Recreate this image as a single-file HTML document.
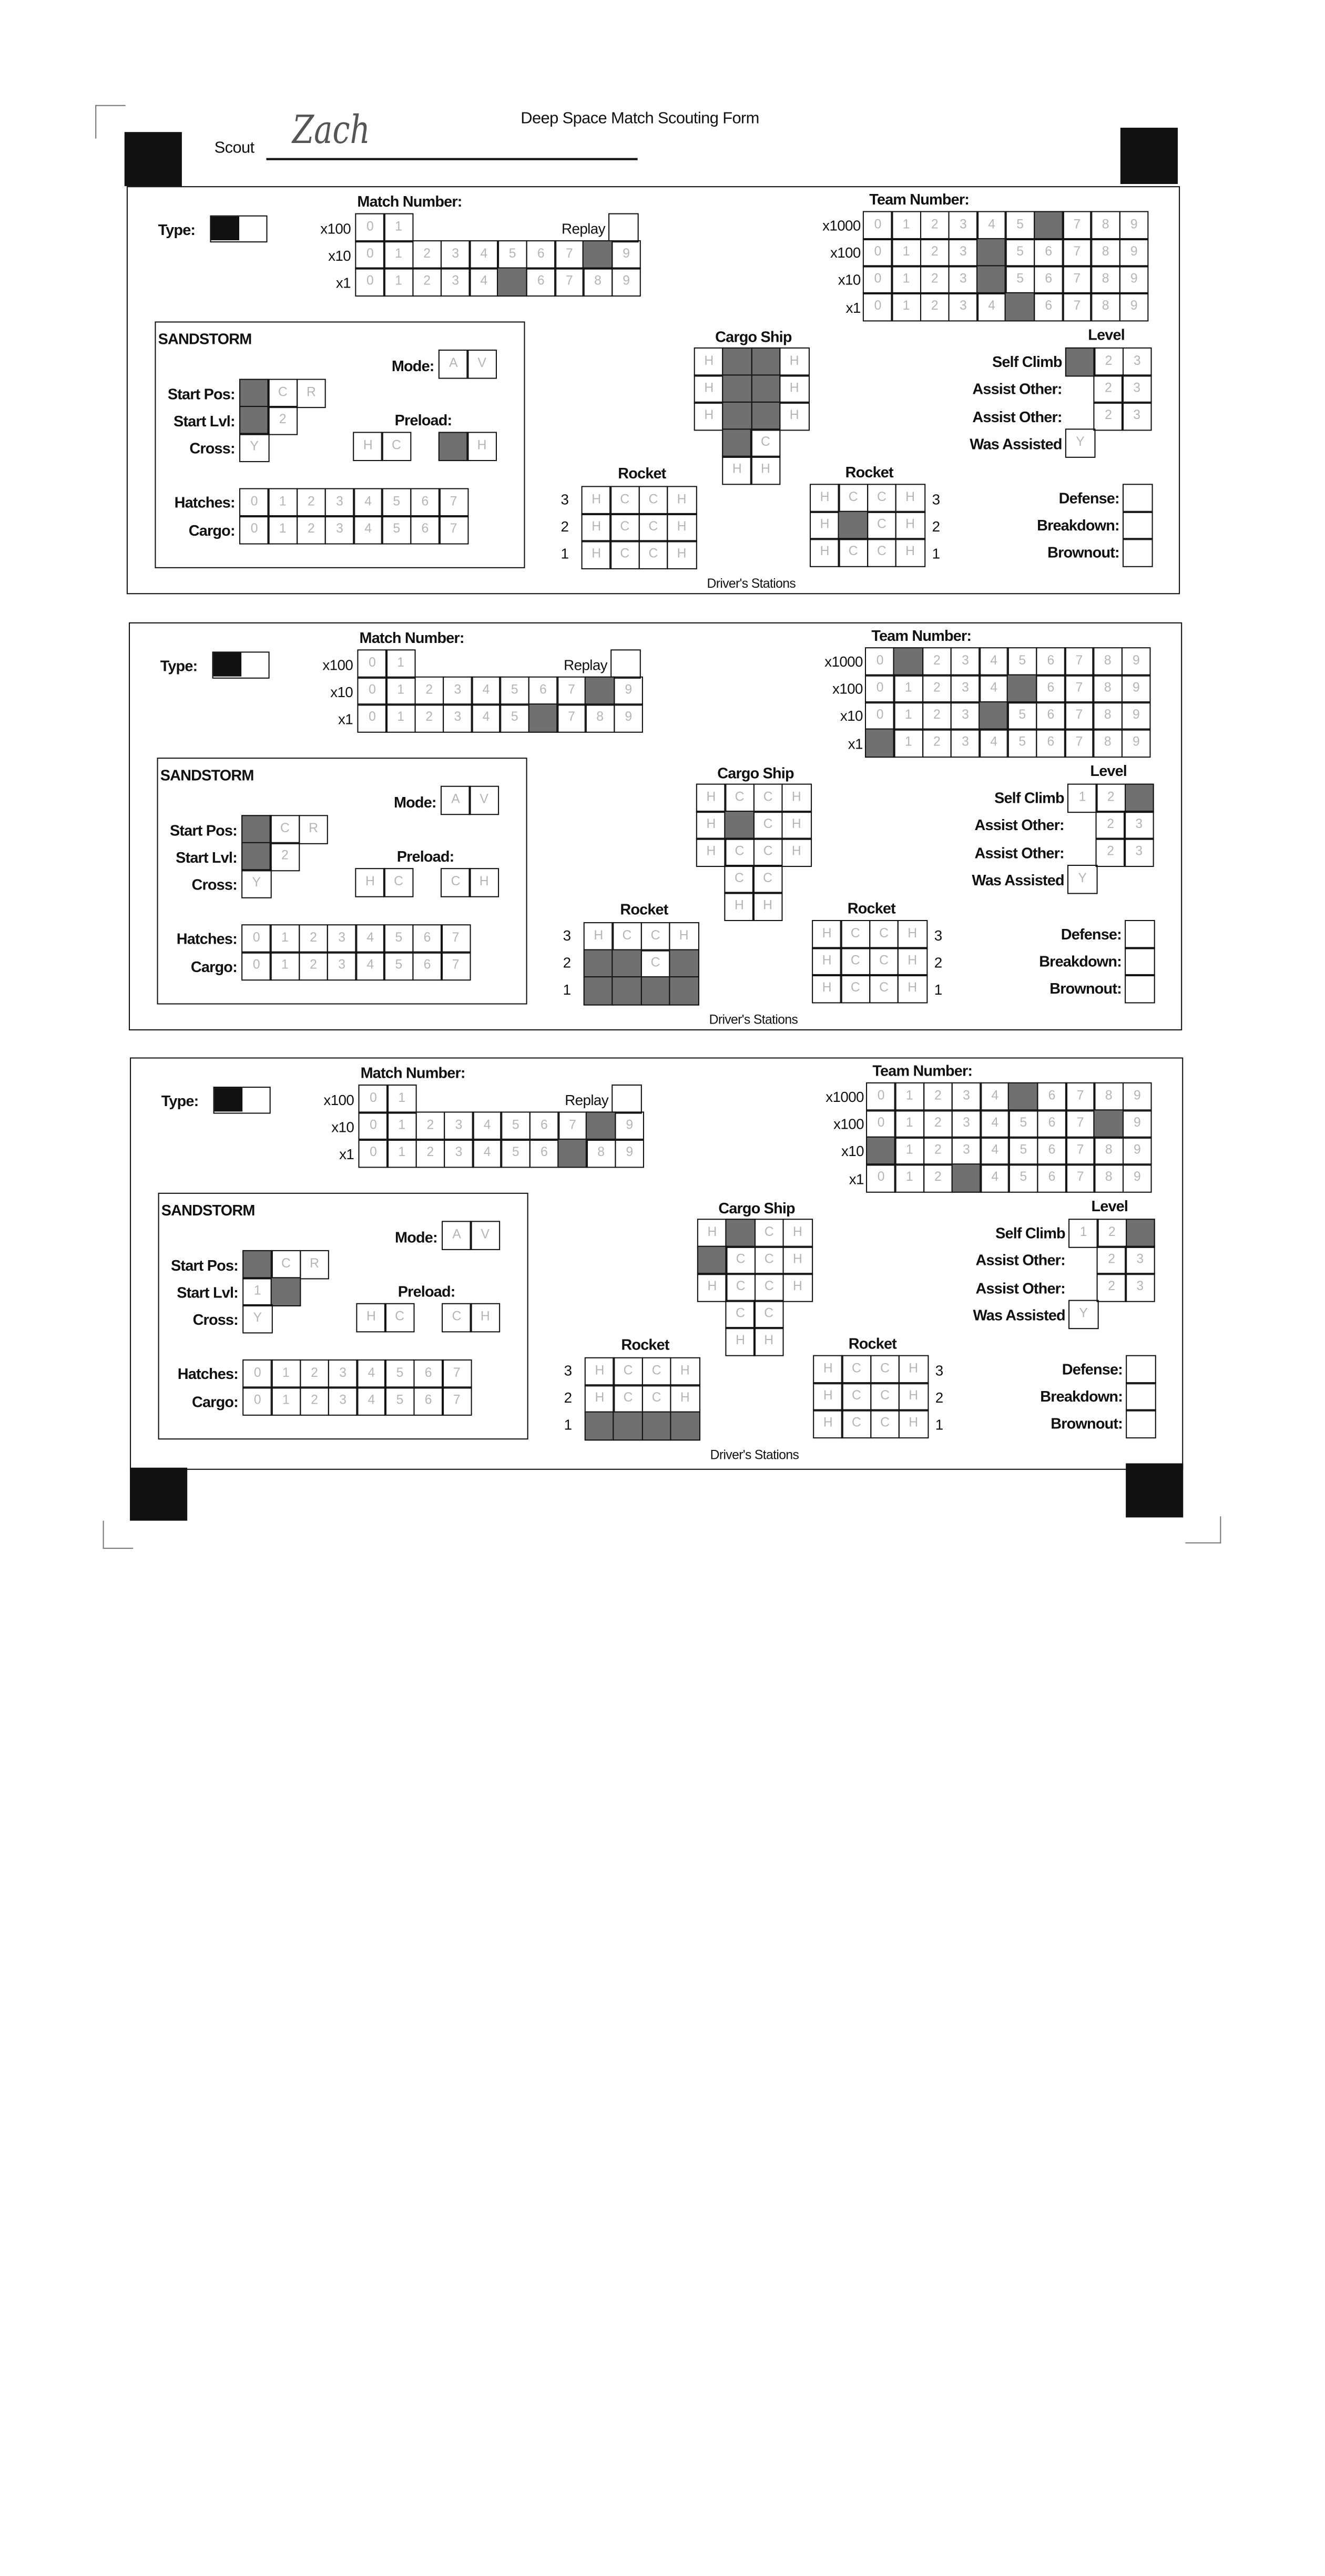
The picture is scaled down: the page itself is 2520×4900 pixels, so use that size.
<!DOCTYPE html>
<html><head><meta charset="utf-8">
<style>
html,body{margin:0;padding:0;background:#fff;}
body{width:2520px;height:3242px;overflow:hidden;position:relative;}
#s{position:absolute;left:0;top:0;width:1224px;height:1575px;transform:scale(2.0588);transform-origin:0 0;font-family:"Liberation Sans",sans-serif;color:#111;}
.a{position:absolute;}
.blk{position:absolute;background:#111;}
.b{position:absolute;border:1.5px solid #111;box-sizing:border-box;}
.r{position:absolute;display:flex;}
.r i{display:block;font-style:normal;width:27.8px;height:26.7px;border:1.5px solid #111;margin:0 -1.5px 0 0;box-sizing:border-box;text-align:center;line-height:23px;font-size:12px;color:#b5b5b5;font-family:"Liberation Sans",sans-serif;}
.r i.f{background:#707070;color:#707070;}
.t{position:absolute;font-weight:bold;font-size:14px;letter-spacing:-0.4px;line-height:18px;white-space:nowrap;}
.n{position:absolute;font-size:13.5px;letter-spacing:-0.3px;line-height:18px;white-space:nowrap;}
.R{text-align:right;width:200px;}
.C{text-align:center;width:200px;}
.p{position:absolute;left:0;top:0;width:1224px;height:1575px;}
</style></head><body><div id="s">

<div class="a" style="left:88px;top:97px;width:27px;height:30px;border-left:1.5px solid #777;border-top:1.5px solid #777;"></div>
<div class="a" style="left:95px;top:1405px;width:27px;height:25px;border-left:1.5px solid #777;border-bottom:1.5px solid #777;"></div>
<div class="a" style="left:1095px;top:1401px;width:32px;height:24px;border-right:1.5px solid #777;border-bottom:1.5px solid #777;"></div>
<div class="blk" style="left:115px;top:122px;width:53px;height:50px"></div>
<div class="blk" style="left:1035px;top:118px;width:53px;height:52px"></div>
<div class="blk" style="left:120px;top:1356px;width:53px;height:49px"></div>
<div class="blk" style="left:1040px;top:1352px;width:53px;height:50px"></div>

<div class="n" style="left:481px;top:101px;font-size:15px">Deep Space Match Scouting Form</div>
<div class="n" style="left:198px;top:128px;font-size:15px">Scout</div>
<div class="a" style="left:246px;top:146px;width:343px;height:2px;background:#111"></div>
<div class="a" style="left:270px;top:100px;font-family:'DejaVu Serif',serif;font-size:36px;color:#555;font-style:italic;transform:scaleX(0.8);transform-origin:0 0;">Zach</div>

<!-- PANEL 1 -->
<div class="p">
<div class="b" style="left:117px;top:172px;width:973px;height:377px"></div>
<div class="t" style="left:146px;top:203px">Type:</div>
<div class="b" style="left:194px;top:199px;width:53px;height:25px"><div class="blk" style="left:0;top:0;width:26px;height:22px"></div></div>
<div class="t" style="left:330px;top:177px">Match Number:</div>
<div class="n R" style="left:124px;top:203px">x100</div>
<div class="n R" style="left:124px;top:228px">x10</div>
<div class="n R" style="left:124px;top:253px">x1</div>
<div class="n R" style="left:359px;top:203px">Replay</div>
<div class="r" style="left:328px;top:197px"><i>0</i><i>1</i></div>
<div class="r" style="left:562px;top:197px"><i></i></div>
<div class="r" style="left:328px;top:222px"><i>0</i><i>1</i><i>2</i><i>3</i><i>4</i><i>5</i><i>6</i><i>7</i><i class="f">8</i><i>9</i></div>
<div class="r" style="left:328px;top:247px"><i>0</i><i>1</i><i>2</i><i>3</i><i>4</i><i class="f">5</i><i>6</i><i>7</i><i>8</i><i>9</i></div>
<div class="t" style="left:803px;top:175px">Team Number:</div>
<div class="n R" style="left:595px;top:200px">x1000</div>
<div class="n R" style="left:595px;top:225px">x100</div>
<div class="n R" style="left:595px;top:250px">x10</div>
<div class="n R" style="left:595px;top:276px">x1</div>
<div class="r" style="left:797px;top:195px"><i>0</i><i>1</i><i>2</i><i>3</i><i>4</i><i>5</i><i class="f">6</i><i>7</i><i>8</i><i>9</i></div>
<div class="r" style="left:797px;top:220px"><i>0</i><i>1</i><i>2</i><i>3</i><i class="f">4</i><i>5</i><i>6</i><i>7</i><i>8</i><i>9</i></div>
<div class="r" style="left:797px;top:245px"><i>0</i><i>1</i><i>2</i><i>3</i><i class="f">4</i><i>5</i><i>6</i><i>7</i><i>8</i><i>9</i></div>
<div class="r" style="left:797px;top:270px"><i>0</i><i>1</i><i>2</i><i>3</i><i>4</i><i class="f">5</i><i>6</i><i>7</i><i>8</i><i>9</i></div>
<div class="b" style="left:143px;top:297px;width:342px;height:228px"></div>
<div class="t" style="left:146px;top:304px">SANDSTORM</div>
<div class="t R" style="left:201px;top:329px">Mode:</div>
<div class="r" style="left:405px;top:323px"><i>A</i><i>V</i></div>
<div class="t R" style="left:17px;top:355px">Start Pos:</div>
<div class="t R" style="left:17px;top:380px">Start Lvl:</div>
<div class="t R" style="left:17px;top:405px">Cross:</div>
<div class="r" style="left:221px;top:350px"><i class="f">L</i><i>C</i><i>R</i></div>
<div class="r" style="left:221px;top:375px"><i class="f">1</i><i>2</i></div>
<div class="r" style="left:221px;top:400px"><i>Y</i></div>
<div class="t C" style="left:291px;top:379px">Preload:</div>
<div class="r" style="left:326px;top:399px"><i>H</i><i>C</i></div>
<div class="r" style="left:405px;top:399px"><i class="f">C</i><i>H</i></div>
<div class="t R" style="left:17px;top:455px">Hatches:</div>
<div class="t R" style="left:17px;top:481px">Cargo:</div>
<div class="r" style="left:221px;top:451px"><i>0</i><i>1</i><i>2</i><i>3</i><i>4</i><i>5</i><i>6</i><i>7</i></div>
<div class="r" style="left:221px;top:476px"><i>0</i><i>1</i><i>2</i><i>3</i><i>4</i><i>5</i><i>6</i><i>7</i></div>
<div class="t C" style="left:596px;top:302px">Cargo Ship</div>
<div class="r" style="left:641px;top:321px"><i>H</i><i class="f">C</i><i class="f">C</i><i>H</i></div>
<div class="r" style="left:641px;top:346px"><i>H</i><i class="f">C</i><i class="f">C</i><i>H</i></div>
<div class="r" style="left:641px;top:371px"><i>H</i><i class="f">C</i><i class="f">C</i><i>H</i></div>
<div class="r" style="left:667px;top:396px"><i class="f">C</i><i>C</i></div>
<div class="r" style="left:667px;top:421px"><i>H</i><i>H</i></div>
<div class="t C" style="left:493px;top:428px">Rocket</div>
<div class="n" style="left:518px;top:453px">3</div><div class="n" style="left:518px;top:478px">2</div><div class="n" style="left:518px;top:503px">1</div>
<div class="r" style="left:537px;top:449px"><i>H</i><i>C</i><i>C</i><i>H</i></div>
<div class="r" style="left:537px;top:474px"><i>H</i><i>C</i><i>C</i><i>H</i></div>
<div class="r" style="left:537px;top:499px"><i>H</i><i>C</i><i>C</i><i>H</i></div>
<div class="t C" style="left:703px;top:427px">Rocket</div>
<div class="r" style="left:748px;top:447px"><i>H</i><i>C</i><i>C</i><i>H</i></div>
<div class="r" style="left:748px;top:472px"><i>H</i><i class="f">C</i><i>C</i><i>H</i></div>
<div class="r" style="left:748px;top:497px"><i>H</i><i>C</i><i>C</i><i>H</i></div>
<div class="n" style="left:861px;top:453px">3</div><div class="n" style="left:861px;top:478px">2</div><div class="n" style="left:861px;top:503px">1</div>
<div class="n C" style="left:594px;top:530px;font-size:12px">Driver's Stations</div>
<div class="t C" style="left:922px;top:300px">Level</div>
<div class="t R" style="left:781px;top:325px">Self Climb</div>
<div class="t R" style="left:781px;top:350px">Assist Other:</div>
<div class="t R" style="left:781px;top:376px">Assist Other:</div>
<div class="t R" style="left:781px;top:401px">Was Assisted</div>
<div class="r" style="left:984px;top:321px"><i class="f">1</i><i>2</i><i>3</i></div>
<div class="r" style="left:1010px;top:346px"><i>2</i><i>3</i></div>
<div class="r" style="left:1010px;top:371px"><i>2</i><i>3</i></div>
<div class="r" style="left:984px;top:396px"><i>Y</i></div>
<div class="t R" style="left:834px;top:451px">Defense:</div>
<div class="t R" style="left:834px;top:476px">Breakdown:</div>
<div class="t R" style="left:834px;top:501px">Brownout:</div>
<div class="r" style="left:1037px;top:447px"><i></i></div>
<div class="r" style="left:1037px;top:472px"><i></i></div>
<div class="r" style="left:1037px;top:497px"><i></i></div>
</div>

<!-- PANEL 2 -->
<div class="p" style="transform:translate(2px,403px)">
<div class="b" style="left:117px;top:172px;width:973px;height:377px"></div>
<div class="t" style="left:146px;top:203px">Type:</div>
<div class="b" style="left:194px;top:199px;width:53px;height:25px"><div class="blk" style="left:0;top:0;width:26px;height:22px"></div></div>
<div class="t" style="left:330px;top:177px">Match Number:</div>
<div class="n R" style="left:124px;top:203px">x100</div>
<div class="n R" style="left:124px;top:228px">x10</div>
<div class="n R" style="left:124px;top:253px">x1</div>
<div class="n R" style="left:359px;top:203px">Replay</div>
<div class="r" style="left:328px;top:197px"><i>0</i><i>1</i></div>
<div class="r" style="left:562px;top:197px"><i></i></div>
<div class="r" style="left:328px;top:222px"><i>0</i><i>1</i><i>2</i><i>3</i><i>4</i><i>5</i><i>6</i><i>7</i><i class="f">8</i><i>9</i></div>
<div class="r" style="left:328px;top:247px"><i>0</i><i>1</i><i>2</i><i>3</i><i>4</i><i>5</i><i class="f">6</i><i>7</i><i>8</i><i>9</i></div>
<div class="t" style="left:803px;top:175px">Team Number:</div>
<div class="n R" style="left:595px;top:200px">x1000</div>
<div class="n R" style="left:595px;top:225px">x100</div>
<div class="n R" style="left:595px;top:250px">x10</div>
<div class="n R" style="left:595px;top:276px">x1</div>
<div class="r" style="left:797px;top:195px"><i>0</i><i class="f">1</i><i>2</i><i>3</i><i>4</i><i>5</i><i>6</i><i>7</i><i>8</i><i>9</i></div>
<div class="r" style="left:797px;top:220px"><i>0</i><i>1</i><i>2</i><i>3</i><i>4</i><i class="f">5</i><i>6</i><i>7</i><i>8</i><i>9</i></div>
<div class="r" style="left:797px;top:245px"><i>0</i><i>1</i><i>2</i><i>3</i><i class="f">4</i><i>5</i><i>6</i><i>7</i><i>8</i><i>9</i></div>
<div class="r" style="left:797px;top:270px"><i class="f">0</i><i>1</i><i>2</i><i>3</i><i>4</i><i>5</i><i>6</i><i>7</i><i>8</i><i>9</i></div>
<div class="b" style="left:143px;top:297px;width:342px;height:228px"></div>
<div class="t" style="left:146px;top:304px">SANDSTORM</div>
<div class="t R" style="left:201px;top:329px">Mode:</div>
<div class="r" style="left:405px;top:323px"><i>A</i><i>V</i></div>
<div class="t R" style="left:17px;top:355px">Start Pos:</div>
<div class="t R" style="left:17px;top:380px">Start Lvl:</div>
<div class="t R" style="left:17px;top:405px">Cross:</div>
<div class="r" style="left:221px;top:350px"><i class="f">L</i><i>C</i><i>R</i></div>
<div class="r" style="left:221px;top:375px"><i class="f">1</i><i>2</i></div>
<div class="r" style="left:221px;top:400px"><i>Y</i></div>
<div class="t C" style="left:291px;top:379px">Preload:</div>
<div class="r" style="left:326px;top:399px"><i>H</i><i>C</i></div>
<div class="r" style="left:405px;top:399px"><i>C</i><i>H</i></div>
<div class="t R" style="left:17px;top:455px">Hatches:</div>
<div class="t R" style="left:17px;top:481px">Cargo:</div>
<div class="r" style="left:221px;top:451px"><i>0</i><i>1</i><i>2</i><i>3</i><i>4</i><i>5</i><i>6</i><i>7</i></div>
<div class="r" style="left:221px;top:476px"><i>0</i><i>1</i><i>2</i><i>3</i><i>4</i><i>5</i><i>6</i><i>7</i></div>
<div class="t C" style="left:596px;top:302px">Cargo Ship</div>
<div class="r" style="left:641px;top:321px"><i>H</i><i>C</i><i>C</i><i>H</i></div>
<div class="r" style="left:641px;top:346px"><i>H</i><i class="f">C</i><i>C</i><i>H</i></div>
<div class="r" style="left:641px;top:371px"><i>H</i><i>C</i><i>C</i><i>H</i></div>
<div class="r" style="left:667px;top:396px"><i>C</i><i>C</i></div>
<div class="r" style="left:667px;top:421px"><i>H</i><i>H</i></div>
<div class="t C" style="left:493px;top:428px">Rocket</div>
<div class="n" style="left:518px;top:453px">3</div><div class="n" style="left:518px;top:478px">2</div><div class="n" style="left:518px;top:503px">1</div>
<div class="r" style="left:537px;top:449px"><i>H</i><i>C</i><i>C</i><i>H</i></div>
<div class="r" style="left:537px;top:474px"><i class="f">H</i><i class="f">C</i><i>C</i><i class="f">H</i></div>
<div class="r" style="left:537px;top:499px"><i class="f">H</i><i class="f">C</i><i class="f">C</i><i class="f">H</i></div>
<div class="t C" style="left:703px;top:427px">Rocket</div>
<div class="r" style="left:748px;top:447px"><i>H</i><i>C</i><i>C</i><i>H</i></div>
<div class="r" style="left:748px;top:472px"><i>H</i><i>C</i><i>C</i><i>H</i></div>
<div class="r" style="left:748px;top:497px"><i>H</i><i>C</i><i>C</i><i>H</i></div>
<div class="n" style="left:861px;top:453px">3</div><div class="n" style="left:861px;top:478px">2</div><div class="n" style="left:861px;top:503px">1</div>
<div class="n C" style="left:594px;top:530px;font-size:12px">Driver's Stations</div>
<div class="t C" style="left:922px;top:300px">Level</div>
<div class="t R" style="left:781px;top:325px">Self Climb</div>
<div class="t R" style="left:781px;top:350px">Assist Other:</div>
<div class="t R" style="left:781px;top:376px">Assist Other:</div>
<div class="t R" style="left:781px;top:401px">Was Assisted</div>
<div class="r" style="left:984px;top:321px"><i>1</i><i>2</i><i class="f">3</i></div>
<div class="r" style="left:1010px;top:346px"><i>2</i><i>3</i></div>
<div class="r" style="left:1010px;top:371px"><i>2</i><i>3</i></div>
<div class="r" style="left:984px;top:396px"><i>Y</i></div>
<div class="t R" style="left:834px;top:451px">Defense:</div>
<div class="t R" style="left:834px;top:476px">Breakdown:</div>
<div class="t R" style="left:834px;top:501px">Brownout:</div>
<div class="r" style="left:1037px;top:447px"><i></i></div>
<div class="r" style="left:1037px;top:472px"><i></i></div>
<div class="r" style="left:1037px;top:497px"><i></i></div>
</div>

<!-- PANEL 3 -->
<div class="p" style="transform:translate(3px,805px)">
<div class="b" style="left:117px;top:172px;width:973px;height:381px"></div>
<div class="t" style="left:146px;top:203px">Type:</div>
<div class="b" style="left:194px;top:199px;width:53px;height:25px"><div class="blk" style="left:0;top:0;width:26px;height:22px"></div></div>
<div class="t" style="left:330px;top:177px">Match Number:</div>
<div class="n R" style="left:124px;top:203px">x100</div>
<div class="n R" style="left:124px;top:228px">x10</div>
<div class="n R" style="left:124px;top:253px">x1</div>
<div class="n R" style="left:359px;top:203px">Replay</div>
<div class="r" style="left:328px;top:197px"><i>0</i><i>1</i></div>
<div class="r" style="left:562px;top:197px"><i></i></div>
<div class="r" style="left:328px;top:222px"><i>0</i><i>1</i><i>2</i><i>3</i><i>4</i><i>5</i><i>6</i><i>7</i><i class="f">8</i><i>9</i></div>
<div class="r" style="left:328px;top:247px"><i>0</i><i>1</i><i>2</i><i>3</i><i>4</i><i>5</i><i>6</i><i class="f">7</i><i>8</i><i>9</i></div>
<div class="t" style="left:803px;top:175px">Team Number:</div>
<div class="n R" style="left:595px;top:200px">x1000</div>
<div class="n R" style="left:595px;top:225px">x100</div>
<div class="n R" style="left:595px;top:250px">x10</div>
<div class="n R" style="left:595px;top:276px">x1</div>
<div class="r" style="left:797px;top:195px"><i>0</i><i>1</i><i>2</i><i>3</i><i>4</i><i class="f">5</i><i>6</i><i>7</i><i>8</i><i>9</i></div>
<div class="r" style="left:797px;top:220px"><i>0</i><i>1</i><i>2</i><i>3</i><i>4</i><i>5</i><i>6</i><i>7</i><i class="f">8</i><i>9</i></div>
<div class="r" style="left:797px;top:245px"><i class="f">0</i><i>1</i><i>2</i><i>3</i><i>4</i><i>5</i><i>6</i><i>7</i><i>8</i><i>9</i></div>
<div class="r" style="left:797px;top:270px"><i>0</i><i>1</i><i>2</i><i class="f">3</i><i>4</i><i>5</i><i>6</i><i>7</i><i>8</i><i>9</i></div>
<div class="b" style="left:143px;top:297px;width:342px;height:228px"></div>
<div class="t" style="left:146px;top:304px">SANDSTORM</div>
<div class="t R" style="left:201px;top:329px">Mode:</div>
<div class="r" style="left:405px;top:323px"><i>A</i><i>V</i></div>
<div class="t R" style="left:17px;top:355px">Start Pos:</div>
<div class="t R" style="left:17px;top:380px">Start Lvl:</div>
<div class="t R" style="left:17px;top:405px">Cross:</div>
<div class="r" style="left:221px;top:350px"><i class="f">L</i><i>C</i><i>R</i></div>
<div class="r" style="left:221px;top:375px"><i>1</i><i class="f">2</i></div>
<div class="r" style="left:221px;top:400px"><i>Y</i></div>
<div class="t C" style="left:291px;top:379px">Preload:</div>
<div class="r" style="left:326px;top:399px"><i>H</i><i>C</i></div>
<div class="r" style="left:405px;top:399px"><i>C</i><i>H</i></div>
<div class="t R" style="left:17px;top:455px">Hatches:</div>
<div class="t R" style="left:17px;top:481px">Cargo:</div>
<div class="r" style="left:221px;top:451px"><i>0</i><i>1</i><i>2</i><i>3</i><i>4</i><i>5</i><i>6</i><i>7</i></div>
<div class="r" style="left:221px;top:476px"><i>0</i><i>1</i><i>2</i><i>3</i><i>4</i><i>5</i><i>6</i><i>7</i></div>
<div class="t C" style="left:596px;top:302px">Cargo Ship</div>
<div class="r" style="left:641px;top:321px"><i>H</i><i class="f">C</i><i>C</i><i>H</i></div>
<div class="r" style="left:641px;top:346px"><i class="f">H</i><i>C</i><i>C</i><i>H</i></div>
<div class="r" style="left:641px;top:371px"><i>H</i><i>C</i><i>C</i><i>H</i></div>
<div class="r" style="left:667px;top:396px"><i>C</i><i>C</i></div>
<div class="r" style="left:667px;top:421px"><i>H</i><i>H</i></div>
<div class="t C" style="left:493px;top:428px">Rocket</div>
<div class="n" style="left:518px;top:453px">3</div><div class="n" style="left:518px;top:478px">2</div><div class="n" style="left:518px;top:503px">1</div>
<div class="r" style="left:537px;top:449px"><i>H</i><i>C</i><i>C</i><i>H</i></div>
<div class="r" style="left:537px;top:474px"><i>H</i><i>C</i><i>C</i><i>H</i></div>
<div class="r" style="left:537px;top:499px"><i class="f">H</i><i class="f">C</i><i class="f">C</i><i class="f">H</i></div>
<div class="t C" style="left:703px;top:427px">Rocket</div>
<div class="r" style="left:748px;top:447px"><i>H</i><i>C</i><i>C</i><i>H</i></div>
<div class="r" style="left:748px;top:472px"><i>H</i><i>C</i><i>C</i><i>H</i></div>
<div class="r" style="left:748px;top:497px"><i>H</i><i>C</i><i>C</i><i>H</i></div>
<div class="n" style="left:861px;top:453px">3</div><div class="n" style="left:861px;top:478px">2</div><div class="n" style="left:861px;top:503px">1</div>
<div class="n C" style="left:594px;top:530px;font-size:12px">Driver's Stations</div>
<div class="t C" style="left:922px;top:300px">Level</div>
<div class="t R" style="left:781px;top:325px">Self Climb</div>
<div class="t R" style="left:781px;top:350px">Assist Other:</div>
<div class="t R" style="left:781px;top:376px">Assist Other:</div>
<div class="t R" style="left:781px;top:401px">Was Assisted</div>
<div class="r" style="left:984px;top:321px"><i>1</i><i>2</i><i class="f">3</i></div>
<div class="r" style="left:1010px;top:346px"><i>2</i><i>3</i></div>
<div class="r" style="left:1010px;top:371px"><i>2</i><i>3</i></div>
<div class="r" style="left:984px;top:396px"><i>Y</i></div>
<div class="t R" style="left:834px;top:451px">Defense:</div>
<div class="t R" style="left:834px;top:476px">Breakdown:</div>
<div class="t R" style="left:834px;top:501px">Brownout:</div>
<div class="r" style="left:1037px;top:447px"><i></i></div>
<div class="r" style="left:1037px;top:472px"><i></i></div>
<div class="r" style="left:1037px;top:497px"><i></i></div>
</div>

</div></body></html>
